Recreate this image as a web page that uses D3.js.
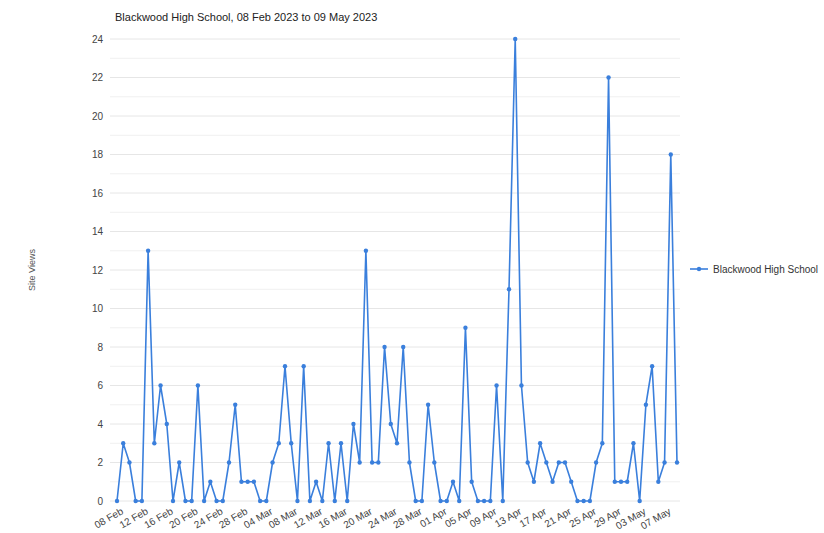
<!DOCTYPE html>
<html lang="en">
<head>
    <meta charset="UTF-8">
    <title>Blackwood High School site views</title>
    <script src="https://d3js.org/d3.v7.min.js"></script>
    <style>
        body {
            margin: 0;
            background: #fff;
            font-family: "Liberation Sans", Arial, sans-serif;
        }
        .grid line { stroke: #e6e6e6; }
        .grid line.minor { stroke: #f0f0f0; }
        .axis text { fill: #444; font-size: 10px; }
        .axis path, .axis line { display: none; }
    </style>
</head>
<body>
    <svg width="824" height="533"></svg>

    <script>
        const title = 'Blackwood High School, 08 Feb 2023 to 09 May 2023';
        const seriesName = 'Blackwood High School';
        const yTitle = 'Site Views';
        const startDay = new Date(2023, 1, 8);

        // daily views, one array per month
        const viewsFeb = [0, 3, 2, 0, 0, 13, 3, 6, 4, 0, 2, 0, 0, 6, 0, 1, 0, 0, 2, 5, 1];
        const viewsMar = [1, 1, 0, 0, 2, 3, 7, 3, 0, 7, 0, 1, 0, 3, 0, 3, 0, 4, 2, 13,
                          2, 2, 8, 4, 3, 8, 2, 0, 0, 5, 2];
        const viewsApr = [0, 0, 1, 0, 9, 1, 0, 0, 0, 6, 0, 11, 24, 6, 2, 1, 3, 2, 1, 2,
                          2, 1, 0, 0, 0, 2, 3, 22, 1, 1];
        const viewsMay = [1, 3, 0, 5, 7, 1, 2, 18, 2];
        const yTicks = [0, 2, 4, 6, 8, 10, 12, 14, 16, 18, 20, 22, 24];

        const views = [...viewsFeb, ...viewsMar, ...viewsApr, ...viewsMay];
        const data = views.map((v, i) => ({ date: d3.timeDay.offset(startDay, i), value: v }));
        const xTicks = data.filter((d, i) => i % 4 === 0).map(d => d.date);

        const svg = d3.select('svg');
        const color = '#3a7fdc';

        const x = d3.scaleTime()
            .domain(d3.extent(data, d => d.date))
            .range([117, 677]);
        const y = d3.scaleLinear()
            .domain([0, 24])
            .range([501, 39]);

        // gridlines, every unit, darker every 2
        svg.append('g')
            .attr('class', 'grid')
            .selectAll('line')
            .data(d3.range(0, 25))
            .enter().append('line')
            .attr('class', d => d % 2 ? 'minor' : null)
            .attr('x1', 110)
            .attr('x2', 680)
            .attr('y1', d => y(d))
            .attr('y2', d => y(d));

        svg.append('g')
            .attr('class', 'axis')
            .attr('transform', 'translate(110,0)')
            .call(d3.axisLeft(y).tickValues(yTicks).tickSize(0).tickPadding(7));

        const xAxis = svg.append('g')
            .attr('class', 'axis')
            .attr('transform', 'translate(0,506)')
            .call(d3.axisBottom(x).tickValues(xTicks).tickFormat(d3.timeFormat('%d %b')).tickSize(0));
        xAxis.selectAll('text')
            .attr('text-anchor', 'end')
            .attr('dy', '0.35em')
            .attr('dx', '2')
            .attr('y', 6)
            .attr('transform', 'rotate(-30)');

        svg.append('path')
            .datum(data)
            .attr('fill', 'none')
            .attr('stroke', color)
            .attr('stroke-width', 1.6)
            .attr('stroke-linejoin', 'round')
            .attr('d', d3.line().x(d => x(d.date)).y(d => y(d.value)));

        svg.append('g')
            .selectAll('circle')
            .data(data)
            .enter().append('circle')
            .attr('cx', d => x(d.date))
            .attr('cy', d => y(d.value))
            .attr('r', 2.2)
            .attr('fill', color);

        svg.append('text')
            .attr('x', 115)
            .attr('y', 21)
            .attr('font-size', 11)
            .attr('fill', '#222')
            .text(title);

        svg.append('text')
            .attr('transform', 'translate(35,270) rotate(-90)')
            .attr('text-anchor', 'middle')
            .attr('font-size', 9)
            .attr('fill', '#555')
            .text(yTitle);

        // legend
        const legend = svg.append('g').attr('transform', 'translate(690,269)');
        legend.append('line')
            .attr('x1', 0).attr('x2', 18)
            .attr('stroke', color).attr('stroke-width', 1.6);
        legend.append('circle')
            .attr('cx', 9).attr('r', 2.2).attr('fill', color);
        legend.append('text')
            .attr('x', 23)
            .attr('dy', '0.35em')
            .attr('font-size', 10)
            .attr('fill', '#333')
            .text(seriesName);
    </script>
</body>
</html>
